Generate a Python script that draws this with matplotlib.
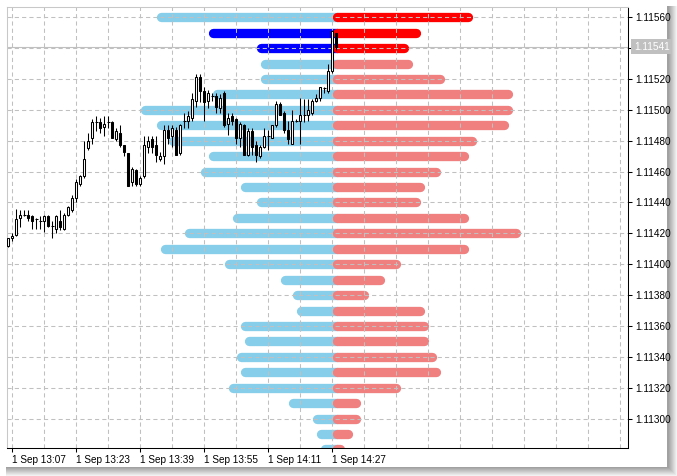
import numpy as np
import matplotlib
matplotlib.use("Agg")
import matplotlib.pyplot as plt
from matplotlib.patches import Rectangle
from matplotlib import transforms

plt.rcParams["font.family"] = ["Liberation Sans", "DejaVu Sans"]
plt.rcParams["font.size"] = 7.2

# 1-minute candles, 1 Sep 13:06 .. 14:28, prices in points above 1.11000
opens = [412, 417, 419, 430, 432, 432, 431, 429, 428, 428, 431, 425, 423, 428, 423, 432,
         435, 443, 452, 457, 475, 482, 492, 492, 489, 492, 492, 481, 485, 477, 472, 453,
         461, 452, 457, 476, 481, 477, 468, 470, 487, 483, 487, 472, 493, 493, 495, 506,
         521, 512, 506, 509, 509, 501, 511, 491, 496, 494, 482, 490, 471, 486, 477, 470,
         476, 483, 482, 490, 504, 498, 487, 478, 493, 493, 497, 497, 498, 506, 508, 514,
         512, 525, 550]
highs = [417, 420, 436, 435, 435, 435, 432, 430, 431, 432, 432, 428, 432, 435, 433, 438,
         445, 455, 458, 480, 485, 494, 496, 495, 496, 496, 493, 488, 490, 477, 472, 463,
         462, 457, 483, 483, 483, 483, 473, 490, 490, 490, 489, 491, 498, 499, 511, 523,
         523, 515, 513, 511, 511, 510, 512, 498, 498, 495, 492, 491, 488, 488, 480, 477,
         488, 487, 490, 506, 505, 499, 493, 500, 494, 508, 507, 507, 507, 510, 515, 515,
         530, 552, 550]
lows = [411, 415, 418, 424, 431, 428, 423, 423, 423, 421, 424, 417, 420, 422, 422, 431,
        434, 440, 451, 456, 474, 478, 486, 485, 483, 488, 482, 480, 476, 470, 451, 451,
        451, 451, 456, 472, 472, 466, 467, 465, 478, 476, 471, 471, 488, 488, 493, 502,
        505, 493, 501, 506, 498, 498, 489, 484, 490, 478, 476, 471, 470, 471, 466, 469,
        475, 474, 482, 489, 497, 485, 478, 478, 492, 478, 492, 493, 497, 505, 506, 511,
        511, 524, 539]
closes = [417, 418, 429, 432, 432, 430, 428, 429, 428, 431, 425, 425, 431, 424, 432, 437,
          443, 453, 457, 468, 480, 492, 492, 488, 491, 492, 482, 486, 477, 473, 451, 462,
          452, 456, 477, 480, 476, 471, 470, 487, 482, 488, 471, 490, 493, 496, 507, 521,
          512, 505, 511, 509, 502, 508, 490, 495, 493, 482, 491, 471, 486, 476, 471, 476,
          483, 483, 490, 504, 497, 487, 481, 493, 493, 497, 497, 500, 506, 508, 515, 514,
          525, 551, 541]
last_price = 541

# depth of market, one level per 10 points
dom_levels = [560, 550, 540, 530, 520, 510, 500, 490, 480, 470, 460, 450, 440, 430, 420,
              410, 400, 390, 380, 370, 360, 350, 340, 330, 320, 310, 300, 290, 280]
bid_volume = [44, 31, 19, 18, 18, 30, 48, 44, 41, 31, 33, 23, 19, 25, 37,
              43, 27, 13, 10, 9, 23, 22, 24, 23, 26, 11, 5, 4, 3]
ask_volume = [35, 22, 19, 20, 28, 45, 45, 44, 36, 34, 27, 23, 22, 34, 47,
              34, 17, 13, 9, 23, 24, 24, 26, 27, 17, 7, 7, 5, 3]
bid_own = [1, 2]      # levels drawn in blue
ask_own = [0, 1, 2]   # levels drawn in red

time_labels = ["1 Sep 13:07", "1 Sep 13:23", "1 Sep 13:39", "1 Sep 13:55", "1 Sep 14:11", "1 Sep 14:27"]
label_bars = [1, 17, 33, 49, 65, 81]


def to_price(p):
    return 1.11 + np.asarray(p, dtype=float) * 1e-5


W, H = 677, 476
fig = plt.figure(figsize=(W / 100, H / 100), dpi=100)

# drop shadow round the chart window
for k in range(9):
    g = 0.95 - 0.04 * k
    fig.add_artist(Rectangle((6 / W, k / H), (677 - k - 6) / W, (476 - k - 6) / H,
                             transform=fig.transFigure, fc=(g, g, g), ec="none", zorder=-10))
fig.add_artist(Rectangle((0, 1 - 467 / H), 667 / W, 467 / H, transform=fig.transFigure,
                         fc="white", ec="none", zorder=-9))

ax = fig.add_axes([7.3 / W, 1 - 448 / H, (628 - 7.3) / W, (448 - 7.3) / H])
ax.set_xlim(-0.25, 154.9)
ax.set_ylim(1.112809, 1.1156648)

# price line under the book
ax.axhline(to_price(last_price), color="#c0c0c0", lw=0.8, zorder=0.5)

# order book bars growing from the 14:27 bar
anchor = 81
cap = 1.125
for i, (lvl, bv, av) in enumerate(zip(dom_levels, bid_volume, ask_volume)):
    y = to_price(lvl)
    bc = "#0000ff" if i in bid_own else "#87ceeb"
    ac = "#ff0000" if i in ask_own else "#f08080"
    ax.plot([anchor - bv + cap, anchor + cap], [y, y], color=bc, lw=6.7,
            solid_capstyle="round", zorder=1)
    ax.plot([anchor + cap, anchor + av - cap], [y, y], color=ac, lw=6.7,
            solid_capstyle="round", zorder=1.1)

# dashed grid on top of the book
for gx in range(1, 154, 8):
    ax.axvline(gx, color="#c0c0c0", lw=0.75, ls=(0, (4, 3)), zorder=2)
for gy in range(300, 561, 20):
    ax.axhline(to_price(gy), color="#c0c0c0", lw=0.75, ls=(0, (4, 3)), zorder=2)

# candles
x = np.arange(len(opens))
o, h, l, c = to_price(opens), to_price(highs), to_price(lows), to_price(closes)
ax.vlines(x, l, h, color="black", lw=0.75, zorder=3)
up = c > o
down = c < o
flat = c == o
ax.bar(x[up], (c - o)[up], bottom=o[up], width=0.5, color="white", edgecolor="black", lw=0.75, zorder=4)
ax.bar(x[down], (c - o)[down], bottom=o[down], width=0.5, color="black", edgecolor="black", lw=0.75, zorder=4)
ax.hlines(o[flat], x[flat] - 0.35, x[flat] + 0.35, color="black", lw=0.75, zorder=4)

# axes look
for side in ["left", "top"]:
    ax.spines[side].set_color("#c8c8c8")
for side in ["right", "bottom"]:
    ax.spines[side].set_color("black")
for s in ax.spines.values():
    s.set_linewidth(0.75)

ax.yaxis.tick_right()
tick_pts = list(range(300, 561, 20))
yt = to_price(tick_pts)
ax.set_yticks(yt)
# the 1.11540 label sits under the current price box
ax.set_yticklabels(["" if p == 540 else "%.5f" % v for p, v in zip(tick_pts, yt)])
ax.tick_params(axis="y", length=3, width=0.75, pad=2, colors="black")
ax.set_xticks(label_bars)
ax.set_xticklabels(time_labels, ha="left")
ax.tick_params(axis="x", length=3, width=0.75, pad=2, colors="black")

trans = transforms.blended_transform_factory(ax.transAxes, ax.transData)
ax.annotate("%.5f" % to_price(last_price), xy=(1, to_price(last_price)), xycoords=trans,
            xytext=(4.3, 0), textcoords="offset points", va="center", ha="left",
            color="white", annotation_clip=False, zorder=10,
            bbox=dict(boxstyle="square,pad=0.25", fc="#c0c0c0", ec="none"))

fig.savefig("out.png", dpi=100)
